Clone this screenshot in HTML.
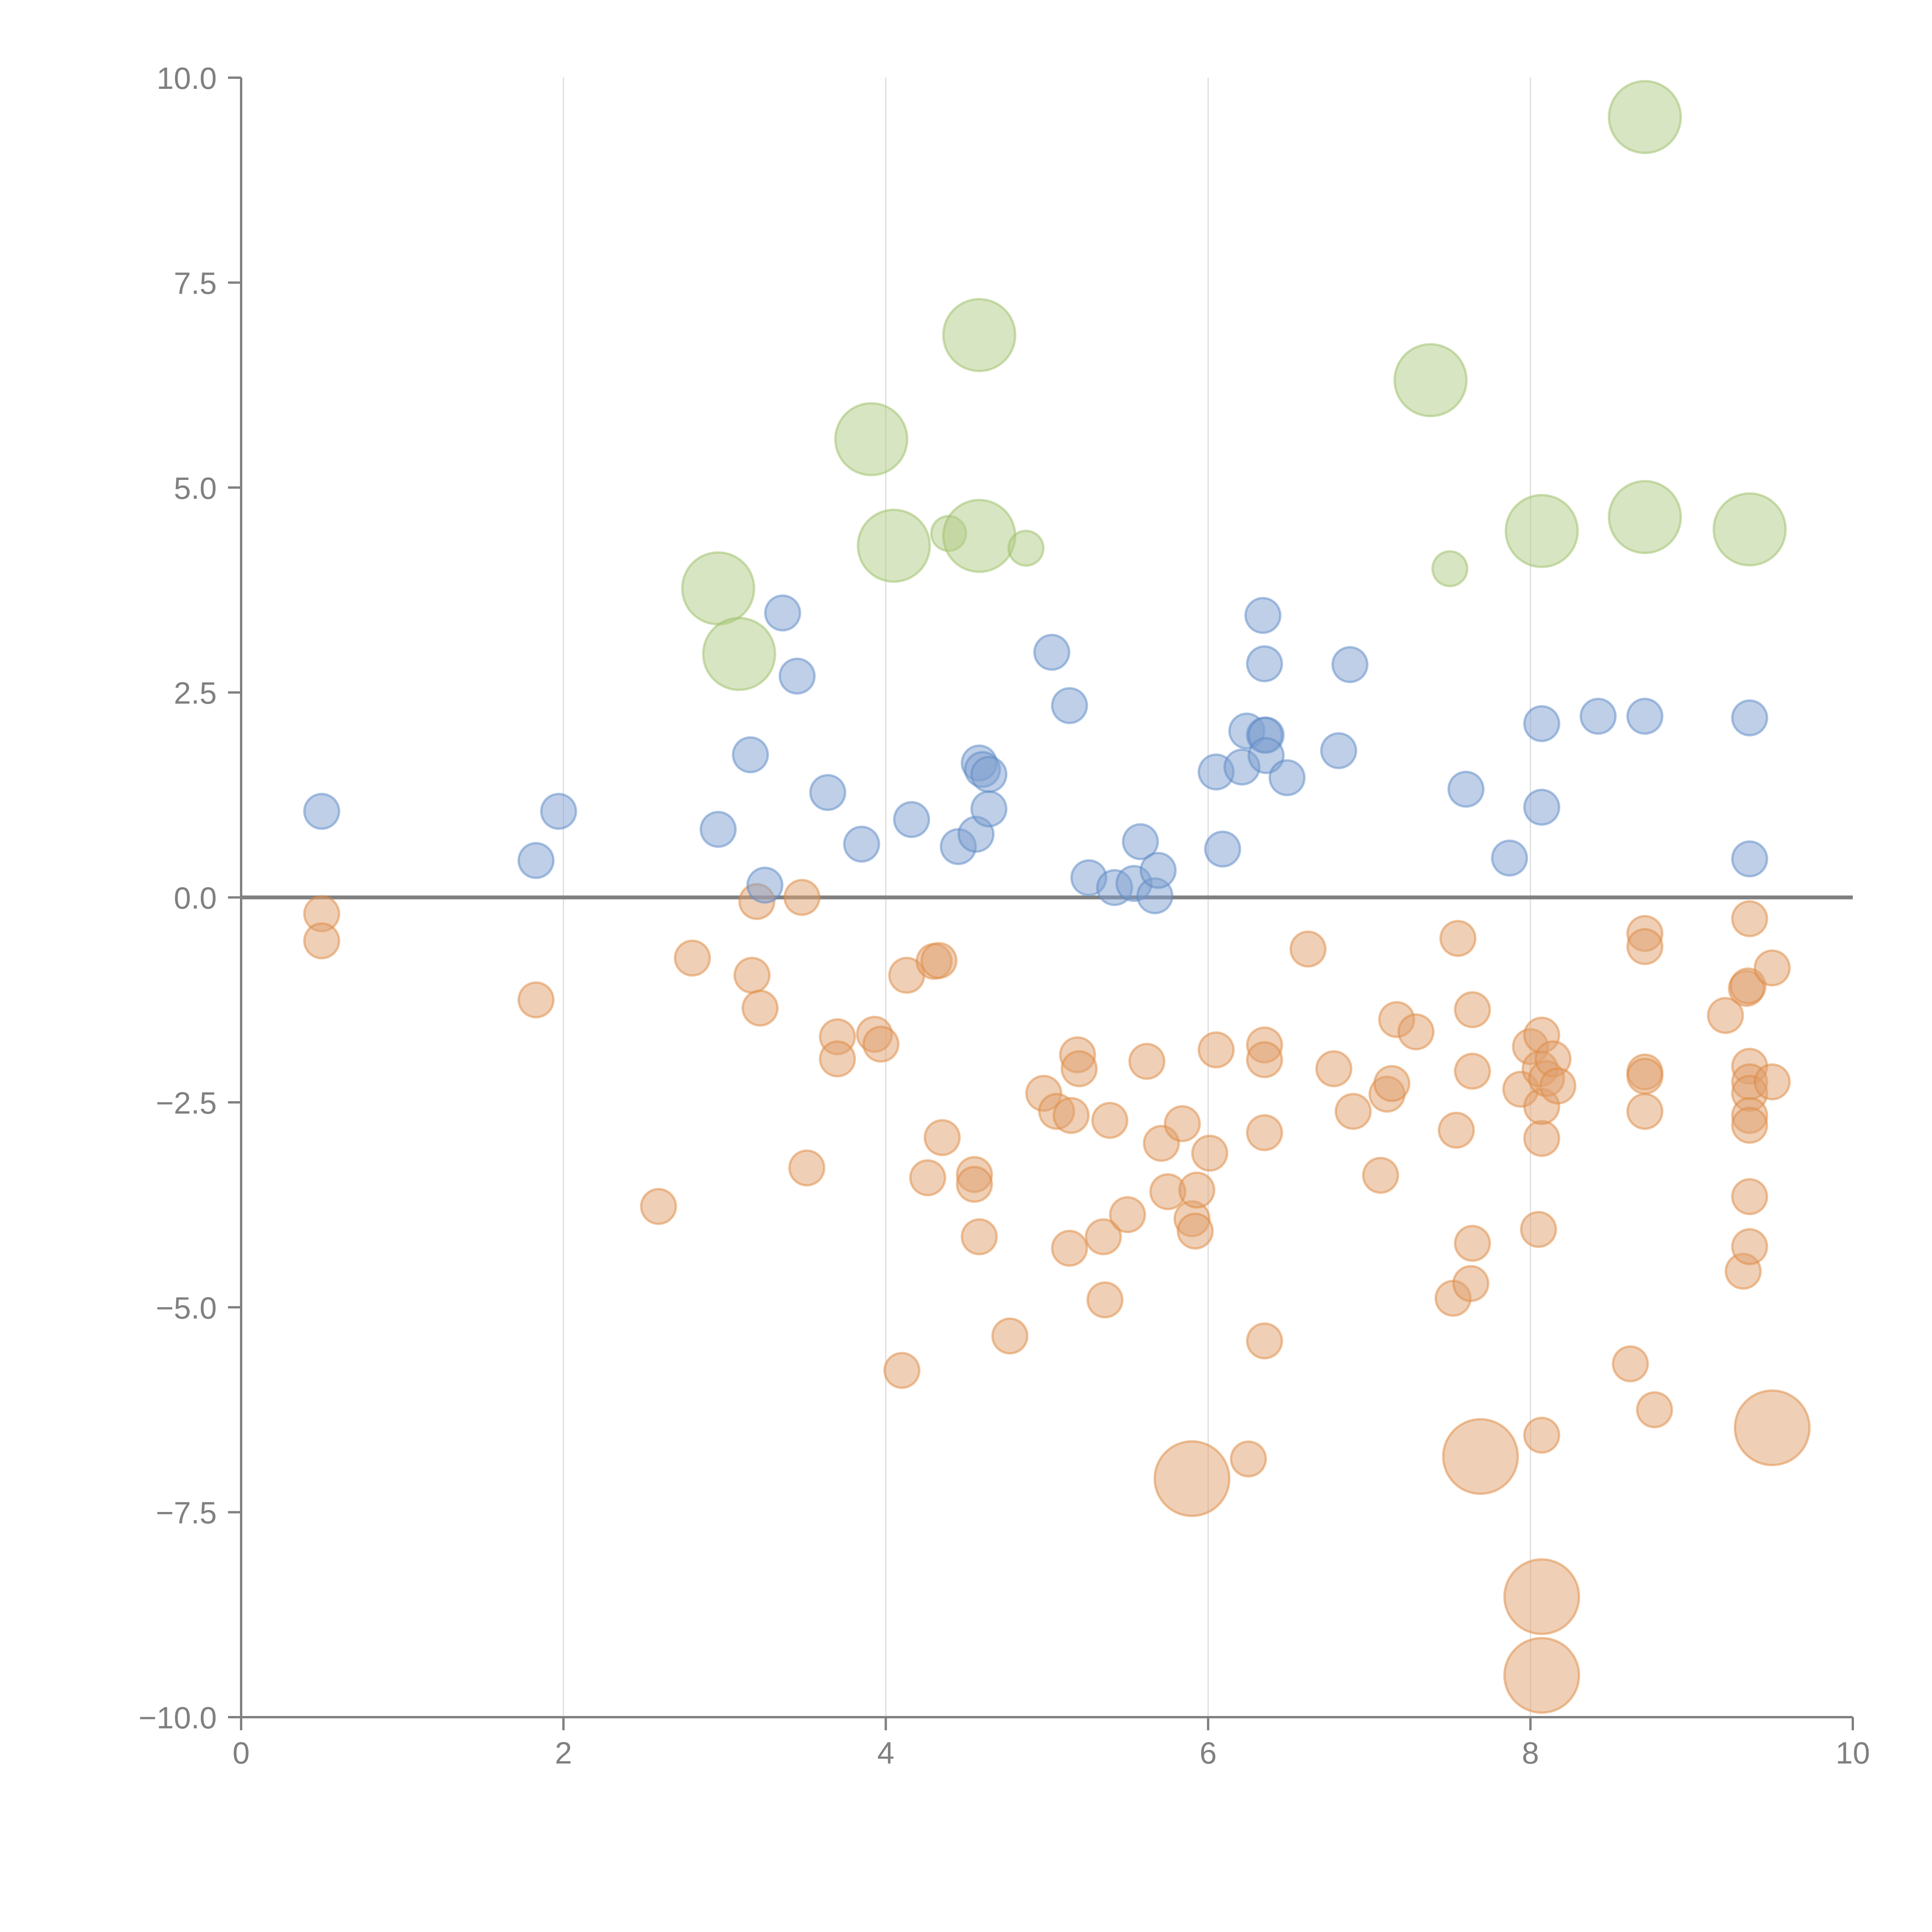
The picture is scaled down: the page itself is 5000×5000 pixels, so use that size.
<!DOCTYPE html>
<html><head><meta charset="utf-8"><style>
html,body{margin:0;padding:0;background:#fff;}
svg{display:block;font-family:"Liberation Sans",sans-serif;}
</style></head><body>
<svg id="chart" width="5000" height="5000" viewBox="0 0 5000 5000" xmlns="http://www.w3.org/2000/svg">
<g id="grid"></g>
<g id="axes"></g>
<g id="marks"></g>
</svg>
<script>
const xTicks=[0,2,4,6,8,10];
const yTicks=[10,7.5,5,2.5,0,-2.5,-5,-7.5,-10];
const yTickLabels=["10.0","7.5","5.0","2.5","0.0","−2.5","−5.0","−7.5","−10.0"];
const blueX=[0.50,1.83,1.97,2.96,3.16,3.25,3.36,3.45,3.64,3.85,4.16,4.45,4.56,4.58,4.60,4.64,4.64,5.03,5.14,5.26,5.42,5.54,5.58,5.67,5.69,6.05,6.09,6.21,6.24,6.34,6.35,6.35,6.36,6.36,6.49,6.81,6.88,7.60,7.87,8.07,8.07,8.42,8.71,9.36,9.36];
const blueY=[1.05,0.45,1.05,0.83,1.74,0.15,3.47,2.70,1.28,0.65,0.95,0.62,0.77,1.64,1.56,1.50,1.08,2.99,2.34,0.24,0.12,0.17,0.68,0.02,0.33,1.53,0.59,1.59,2.03,3.44,2.85,1.98,1.98,1.73,1.46,1.79,2.84,1.32,0.48,2.12,1.10,2.21,2.21,2.19,0.47];
const greenX=[2.96,3.09,3.91,4.05,4.39,4.58,4.58,4.87,7.38,7.50,8.07,8.71,8.71,9.36];
const greenY=[3.77,2.97,5.59,4.29,4.44,6.86,4.41,4.26,6.31,4.01,4.47,4.64,9.52,4.49];
const greenS=[4,4,4,4,1,4,4,1,4,1,4,4,4,4];
const orangeX=[0.50,0.50,1.83,2.59,2.80,3.17,3.20,3.22,3.48,3.51,3.70,3.70,3.93,3.97,4.10,4.13,4.26,4.30,4.33,4.35,4.55,4.55,4.58,4.77,4.98,5.06,5.14,5.15,5.19,5.20,5.35,5.36,5.39,5.50,5.62,5.71,5.75,5.84,5.90,5.90,5.92,5.93,6.01,6.05,6.25,6.35,6.35,6.35,6.35,6.62,6.78,6.90,7.07,7.11,7.14,7.17,7.29,7.52,7.54,7.55,7.63,7.64,7.64,7.64,7.69,7.94,8.00,8.05,8.06,8.07,8.07,8.07,8.07,8.07,8.07,8.10,8.14,8.17,8.62,8.71,8.71,8.71,8.71,8.71,8.77,9.21,9.32,9.34,9.35,9.36,9.36,9.36,9.36,9.36,9.36,9.36,9.36,9.50,9.50,9.50];
const orangeY=[-0.20,-0.53,-1.25,-3.77,-0.74,-0.95,-0.05,-1.35,0.0,-3.30,-1.70,-1.97,-1.67,-1.79,-5.77,-0.95,-3.42,-0.78,-0.77,-2.93,-3.38,-3.50,-4.14,-5.35,-2.39,-2.61,-4.28,-2.66,-1.92,-2.09,-4.14,-4.91,-2.72,-3.87,-2.00,-3.00,-3.59,-2.76,-7.09,-3.92,-4.07,-3.57,-3.12,-1.86,-6.85,-1.80,-1.98,-2.87,-5.41,-0.63,-2.09,-2.61,-3.39,-2.40,-2.27,-1.49,-1.64,-4.89,-2.84,-0.50,-4.71,-1.37,-2.12,-4.22,-6.82,-2.34,-1.82,-4.05,-2.09,-1.68,-2.94,-2.55,-6.56,-8.53,-9.49,-2.21,-1.97,-2.30,-5.69,-0.44,-0.60,-2.13,-2.18,-2.61,-6.25,-1.44,-4.56,-1.11,-1.08,-0.26,-2.06,-2.25,-2.39,-2.66,-2.78,-3.65,-4.26,-0.86,-2.25,-6.47];
const orangeBig=[38,64,73,74,99];

const X0=624,X1=4795,Y0=201,Y1=4444;
const xs=v=>X0+(v-0)/(10-0)*(X1-X0);
const ys=v=>Y0+(10-v)/20*(Y1-Y0);
const rs=s=>48*Math.sqrt(s);
const NS="http://www.w3.org/2000/svg";
function mk(tag,attrs,parent){const e=document.createElementNS(NS,tag);for(const k in attrs)e.setAttribute(k,attrs[k]);parent.appendChild(e);return e;}
const grid=document.getElementById('grid'),axes=document.getElementById('axes'),marks=document.getElementById('marks');
xTicks.forEach(t=>{
  if(t>0&&t<10){const g=mk('line',{x1:xs(t),x2:xs(t),y1:Y0,y2:Y1,stroke:'#dcdcdc','stroke-width':3},grid);
  
  }
  const tk=mk('line',{x1:xs(t),x2:xs(t),y1:Y1,y2:Y1+34,stroke:'#808080','stroke-width':6},axes);
  
  
  const tx=mk('text',{x:xs(t),y:Y1+120,'text-anchor':'middle','font-size':80,fill:'#808080'},axes);
  tx.textContent=String(t);
  
  
});
yTicks.forEach((t,i)=>{
  const tk=mk('line',{x1:X0-34,x2:X0,y1:ys(t),y2:ys(t),stroke:'#808080','stroke-width':6},axes);
  
  
  const tx=mk('text',{x:561,y:ys(t)+29,'text-anchor':'end','font-size':80,fill:'#808080'},axes);
  tx.textContent=yTickLabels[i];
  
  
});
const ya=mk('line',{x1:X0,x2:X0,y1:Y0,y2:Y1,stroke:'#808080','stroke-width':6},axes);


const xa=mk('line',{x1:X0,x2:X1,y1:Y1,y2:Y1,stroke:'#808080','stroke-width':6},axes);


const zl=mk('line',{x1:X0,x2:X1,y1:ys(0),y2:ys(0),stroke:'#808080','stroke-width':10},axes);



function series(X,Y,S,fill,stroke,name){
  X.forEach((x,i)=>{
    const c=mk('circle',{cx:xs(x),cy:ys(Y[i]),r:rs(S(i))-3,fill:fill,'fill-opacity':0.5,stroke:stroke,'stroke-opacity':0.5,'stroke-width':6},marks);
    
    
  });
}
series(orangeX,orangeY,i=>orangeBig.includes(i)?4.3:1,'#e0a06e','#e08a40','orange-bubble');
series(blueX,blueY,i=>1,'#7d9fd0','#5b8ac8','blue-bubble');
series(greenX,greenY,i=>greenS[i],'#b2cc86','#9cc068','green-bubble');
</script>
</body></html>
